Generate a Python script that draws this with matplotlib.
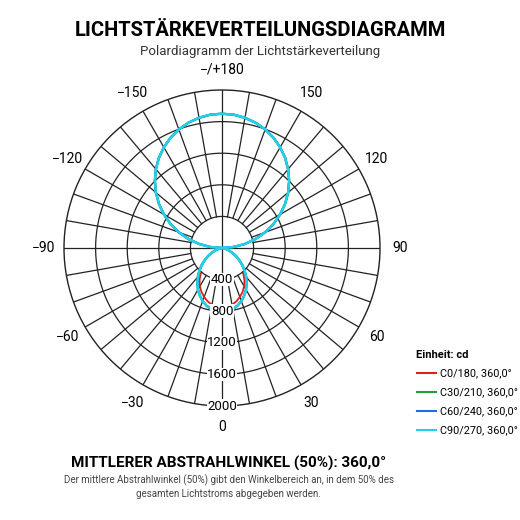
import numpy as np
import matplotlib
matplotlib.use("Agg")
import matplotlib.pyplot as plt

plt.rcParams['font.family'] = ['Roboto', 'DejaVu Sans']

series_names = ["C0/180, 360,0°", "C30/210, 360,0°", "C60/240, 360,0°", "C90/270, 360,0°"]
series_colors = ["#e0201b", "#1ea03c", "#1f6fe0", "#22d0e8"]
angles_deg = list(range(0, 181, 5))
# intensities (cd) vs gamma angle, 0..180 step 5
c90 = [810, 804, 786, 756, 715, 665, 608, 544, 475, 405, 335, 266, 203, 145, 95, 54, 24, 6, 0,
       148, 295, 440, 581, 718, 850, 975, 1093, 1202, 1302, 1393, 1472, 1541, 1597, 1642, 1674, 1694, 1700]
c60 = c90
c30 = c90
c0 = [760, 752, 730, 700, 660, 615, 560, 495, 420, 0, 0, 0, 0, 0, 0, 0, 0, 0, 0,
      148, 295, 440, 581, 718, 850, 975, 1093, 1202, 1302, 1393, 1472, 1541, 1597, 1642, 1674, 1694, 1700]
rings = [400, 800, 1200, 1600, 2000]

fig = plt.figure(figsize=(5.2, 5.2), dpi=100)
fig.text(0.5, 0.942, "LICHTSTÄRKEVERTEILUNGSDIAGRAMM", ha='center', va='center', fontsize=14.5, fontweight='bold')
fig.text(0.5, 0.900, "Polardiagramm der Lichtstärkeverteilung", ha='center', va='center', fontsize=9.5, color='#333333')

cx, cy, R = 222/520, 1-248/520, 158/520
ax = fig.add_axes([cx-R, cy-R, 2*R, 2*R], projection='polar')
ax.set_theta_zero_location('S')
ax.set_theta_direction(1)
ax.set_ylim(0, 2000)
ax.grid(False)
ax.set_xticks([]); ax.set_yticks([])
ax.spines['polar'].set_color('#222222')
ax.spines['polar'].set_linewidth(1.0)

t = np.linspace(0, 2*np.pi, 400)
for r in rings[:-1]:
    ax.plot(t, np.full_like(t, r), color='#222222', lw=0.9)
for a in range(0, 360, 10):
    th = np.deg2rad(a)
    r0 = 0 if a % 90 == 0 else rings[0]
    ax.plot([th, th], [r0, 2000], color='#222222', lw=0.9)

ang = np.deg2rad(np.array(angles_deg))
def full(vals):
    v = np.array(vals, float)
    th = np.concatenate([ang, 2*np.pi - ang[::-1][1:]])
    rv = np.concatenate([v, v[::-1][1:]])
    return th, rv

th2, rv2 = full(c0)
rv2[rv2 < 400] = np.nan
ax.plot(th2, rv2, color=series_colors[0], lw=1.3)
for vals, col in zip([c30, c60], series_colors[1:3]):
    th, rv = full(vals)
    ax.plot(th, rv, color=col, lw=1.6)
th, rv = full(c90)
ax.plot(th, rv, color=series_colors[3], lw=1.8)

for r in rings:
    ax.text(0, r, str(r), ha='center', va='center', fontsize=9.5,
            bbox=dict(facecolor='white', edgecolor='none', pad=0.3))

for a in range(-150, 181, 30):
    th = np.deg2rad(a)
    lab = "−/+180" if a == 180 else ("0" if a == 0 else str(a).replace('-', '−'))
    ax.text(th, 2260, lab, ha='center', va='center', fontsize=10, clip_on=False)

fig.text(0.80, 0.318, "Einheit: cd", fontsize=8, fontweight='bold', va='center')
for i, (n, c) in enumerate(zip(series_names, series_colors)):
    y = 0.282 - i*0.0365
    fig.add_artist(plt.Line2D([0.802, 0.838], [y, y], color=c, lw=1.5))
    fig.text(0.846, y, n, fontsize=7.8, va='center')

fig.text(0.44, 0.108, "MITTLERER ABSTRAHLWINKEL (50%): 360,0°", ha='center', va='center', fontsize=11, fontweight='bold')
fig.text(0.44, 0.064, "Der mittlere Abstrahlwinkel (50%) gibt den Winkelbereich an, in dem 50% des\ngesamten Lichtstroms abgegeben werden.",
         ha='center', va='center', fontsize=7, color='#444444', linespacing=1.4)

fig.savefig("out.png", dpi=100, facecolor='white')
